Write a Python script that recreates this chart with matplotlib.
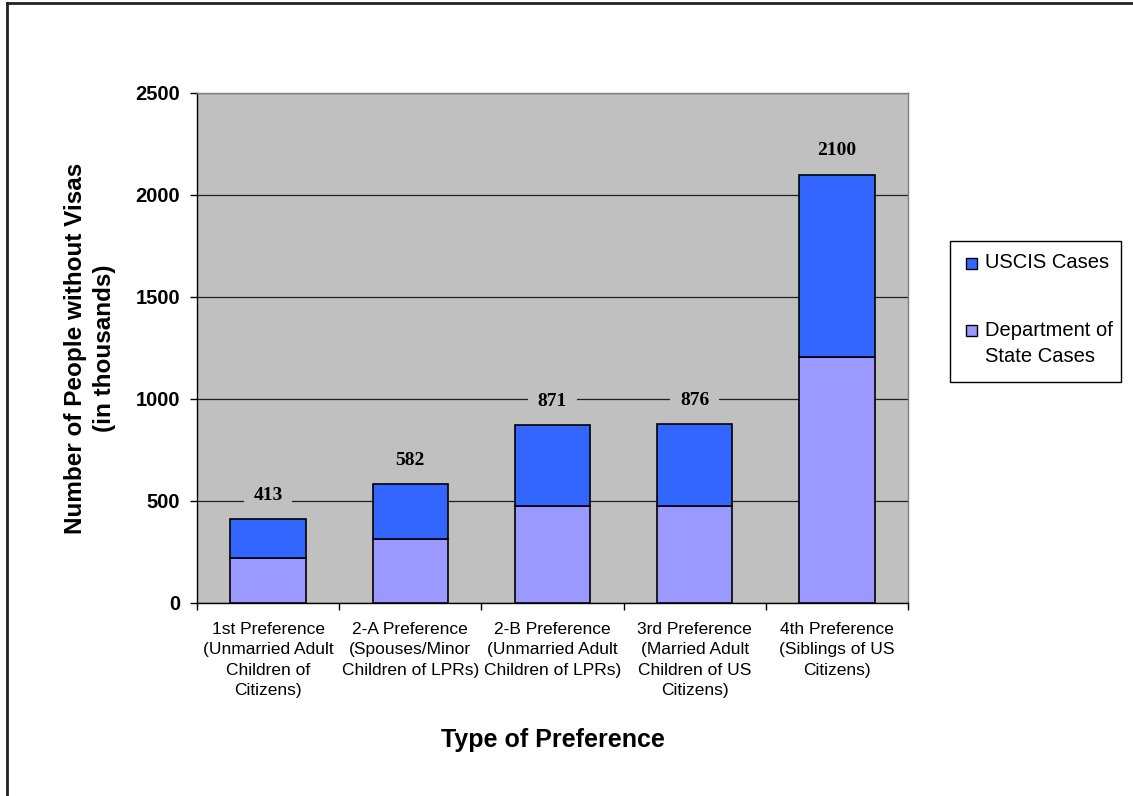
import numpy as np
import matplotlib.pyplot as plt
from matplotlib.lines import Line2D
from matplotlib.patches import Rectangle
from matplotlib.transforms import Affine2D

categories = [
    "1st Preference\n(Unmarried Adult\nChildren of\nCitizens)",
    "2-A Preference\n(Spouses/Minor\nChildren of LPRs)",
    "2-B Preference\n(Unmarried Adult\nChildren of LPRs)",
    "3rd Preference\n(Married Adult\nChildren of US\nCitizens)",
    "4th Preference\n(Siblings of US\nCitizens)",
]
state_cases = [220, 314, 475, 475, 1206]
totals = [413, 582, 871, 876, 2100]
uscis_cases = [t - s for t, s in zip(totals, state_cases)]
y_ticks = [0, 500, 1000, 1500, 2000, 2500]

state_color = '#9999FF'
uscis_color = '#3366FF'
sans = ['Liberation Sans', 'DejaVu Sans']

W, H = 1133, 796
fig = plt.figure(figsize=(W / 100, H / 100), dpi=100)
ax = fig.add_axes([197 / W, 1 - 603 / H, (908 - 197) / W, (603 - 93) / H])
ax.set_facecolor('#C0C0C0')

x = np.arange(len(categories))
ax.bar(x, state_cases, width=0.53, color=state_color, edgecolor='black',
       linewidth=1.2, zorder=3)
ax.bar(x, uscis_cases, width=0.53, bottom=state_cases, color=uscis_color,
       edgecolor='black', linewidth=1.2, zorder=3)

# totals above each stack, boxed in the plot colour so gridlines break around them
for xi, t in zip(x, totals):
    ax.annotate(str(t), (xi, t), xytext=(0, 17), textcoords='offset points',
                ha='center', va='center', fontsize=14, fontweight='bold',
                family=['Liberation Serif', 'DejaVu Serif'], zorder=4,
                bbox=dict(boxstyle='square,pad=0.5', facecolor='#C0C0C0',
                          edgecolor='none'))

ax.set_xlim(-0.5, len(categories) - 0.5)
ax.set_ylim(0, 2500)
ax.set_yticks(y_ticks)
ax.set_yticklabels([str(v) for v in y_ticks], fontsize=14.5, fontweight='bold',
                   family=sans)
ax.yaxis.grid(True, color='#202020', linewidth=0.9, zorder=1)
ax.set_axisbelow(True)

ax.set_xticks(x)
ax.set_xticklabels(categories, fontsize=12.5, family=sans, linespacing=1.42)
ax.tick_params(axis='x', length=0, pad=14)
ax.set_xticks(np.arange(len(categories) + 1) - 0.5, minor=True)
ax.tick_params(axis='x', which='minor', length=5, width=1, color='black')
ax.tick_params(axis='y', length=5, width=1, pad=7)

for side in ['left', 'bottom']:
    ax.spines[side].set_color('black')
    ax.spines[side].set_linewidth(1)
for side in ['top', 'right']:
    ax.spines[side].set_color('#808080')
    ax.spines[side].set_linewidth(1)

ax.set_ylabel('Number of People without Visas\n(in thousands)', fontsize=17.5,
              fontweight='bold', family=sans, labelpad=14, linespacing=1.35)
ax.set_xlabel('Type of Preference', fontsize=18, fontweight='bold',
              family=sans, labelpad=22)

# legend box drawn in pixel units on the figure
px = Affine2D().scale(1 / W, -1 / H).translate(0, 1) + fig.transFigure
fig.add_artist(Rectangle((950, 241), 171, 141, transform=px, facecolor='white',
                         edgecolor='black', linewidth=1))
for yc, col in [(263, uscis_color), (330, state_color)]:
    fig.add_artist(Rectangle((966, yc - 5.5), 11, 11, transform=px,
                             facecolor=col, edgecolor='black', linewidth=1))
for yc, txt in [(263, 'USCIS Cases'), (330, 'Department of'),
                (357, 'State Cases')]:
    fig.text(985, yc, txt, transform=px, ha='left', va='center',
             fontsize=14.5, family=sans)

# outer frame along the top and left edges
fig.add_artist(Line2D([7, 7], [3, H], color='#222222', linewidth=2,
                      transform=px))
fig.add_artist(Line2D([7, W], [3, 3], color='#222222', linewidth=2,
                      transform=px))

fig.savefig('out.png', dpi=100)
